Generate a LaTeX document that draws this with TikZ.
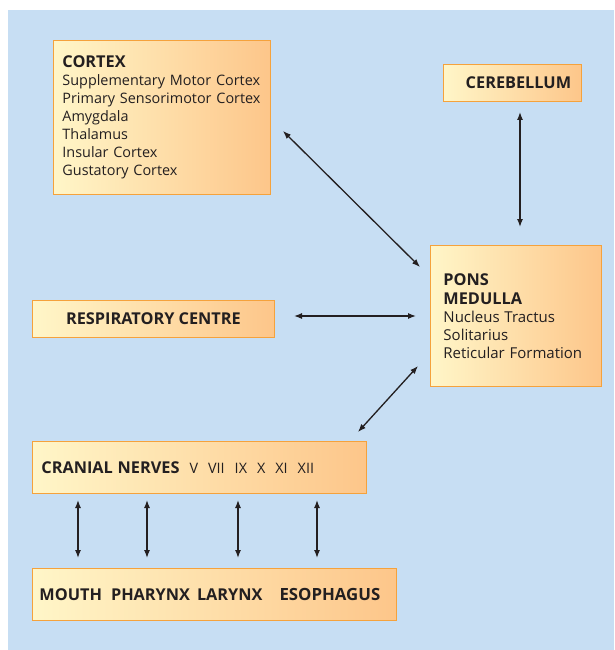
\documentclass[tikz,border=0pt]{standalone}
\usepackage{fontspec}
\setmainfont{Open Sans}
\usetikzlibrary{arrows.meta}
\definecolor{bgblue}{HTML}{C7DEF3}
\definecolor{boxleft}{HTML}{FFF6C8}
\definecolor{boxright}{HTML}{FDC68A}
\definecolor{boxborder}{HTML}{F5A23C}
\definecolor{arrowcol}{HTML}{231F20}
\tikzset{
  box/.style={draw=boxborder, line width=0.9pt, left color=boxleft, right color=boxright,
    anchor=north west, font=\fontsize{14.4}{18}\selectfont, text=arrowcol},
  arr/.style={draw=arrowcol, line width=1.3pt,
    {Latex[length=8pt,width=6pt]}-{Latex[length=8pt,width=6pt]}}
}
\newcommand{\gapA}{\hspace{10pt}}
\newcommand{\bt}[1]{{\fontsize{16.3}{18}\selectfont\bfseries #1}}
\begin{document}
\begin{tikzpicture}[x=1pt,y=-1pt]
\useasboundingbox (0,0) rectangle (614,650);
\fill[bgblue] (8,10) rectangle (614,650);

\node[box, inner xsep=9pt, text width=199pt, minimum height=154pt, align=left] (cortex) at (53,40)
  {\bt{CORTEX}\\Supplementary Motor Cortex\\Primary Sensorimotor Cortex\\Amygdala\\Thalamus\\Insular Cortex\\Gustatory Cortex};

\node[box, inner xsep=0pt, minimum width=138pt, minimum height=37pt] (cereb) at (443,64)
  {\hspace{12pt}\bt{CEREBELLUM}};

\node[box, inner xsep=13pt, text width=145pt, minimum height=141pt, align=left] (pons) at (430,245)
  {\bt{PONS}\\[1pt]\bt{MEDULLA}\\\fontsize{15}{18}\selectfont Nucleus Tractus\\Solitarius\\Reticular Formation};

\node[box, inner xsep=0pt, minimum width=242pt, minimum height=37pt] (resp) at (32,300)
  {\bt{RESPIRATORY CENTRE}};

\node[box, inner xsep=9pt, text width=316pt, minimum height=52pt, align=left] (cranial) at (32,441)
  {\bt{CRANIAL NERVES}\gapA V\gapA VII\gapA IX\gapA X\gapA XI\gapA XII};

\node[box, inner xsep=7pt, text width=350pt, minimum height=52pt, align=left] (mouth) at (32,568)
  {\bt{MOUTH}\hspace{9pt}\bt{PHARYNX}\hspace{7pt}\bt{LARYNX}\hspace{17pt}{\fontsize{16.8}{18}\selectfont\bfseries ESOPHAGUS}};

% connector end points
\coordinate (c1) at (283,131);
\coordinate (p1) at (420,267);
\coordinate (b1) at (520,112);
\coordinate (p2) at (520,227);
\coordinate (r1) at (294,316);
\coordinate (p3) at (416,316);
\coordinate (n1) at (358,432);
\coordinate (p4) at (418,366);

\draw[arr] (c1) -- (p1);
\draw[arr] (b1) -- (p2);
\draw[arr] (r1) -- (p3);
\draw[arr] (n1) -- (p4);

\foreach \xx/\nm in {78/a,147/b,238/c,317/d}{
  \coordinate (top\nm) at (\xx,500);
  \coordinate (bot\nm) at (\xx,558);
  \draw[arr] (top\nm) -- (bot\nm);
}
\end{tikzpicture}
\end{document}
